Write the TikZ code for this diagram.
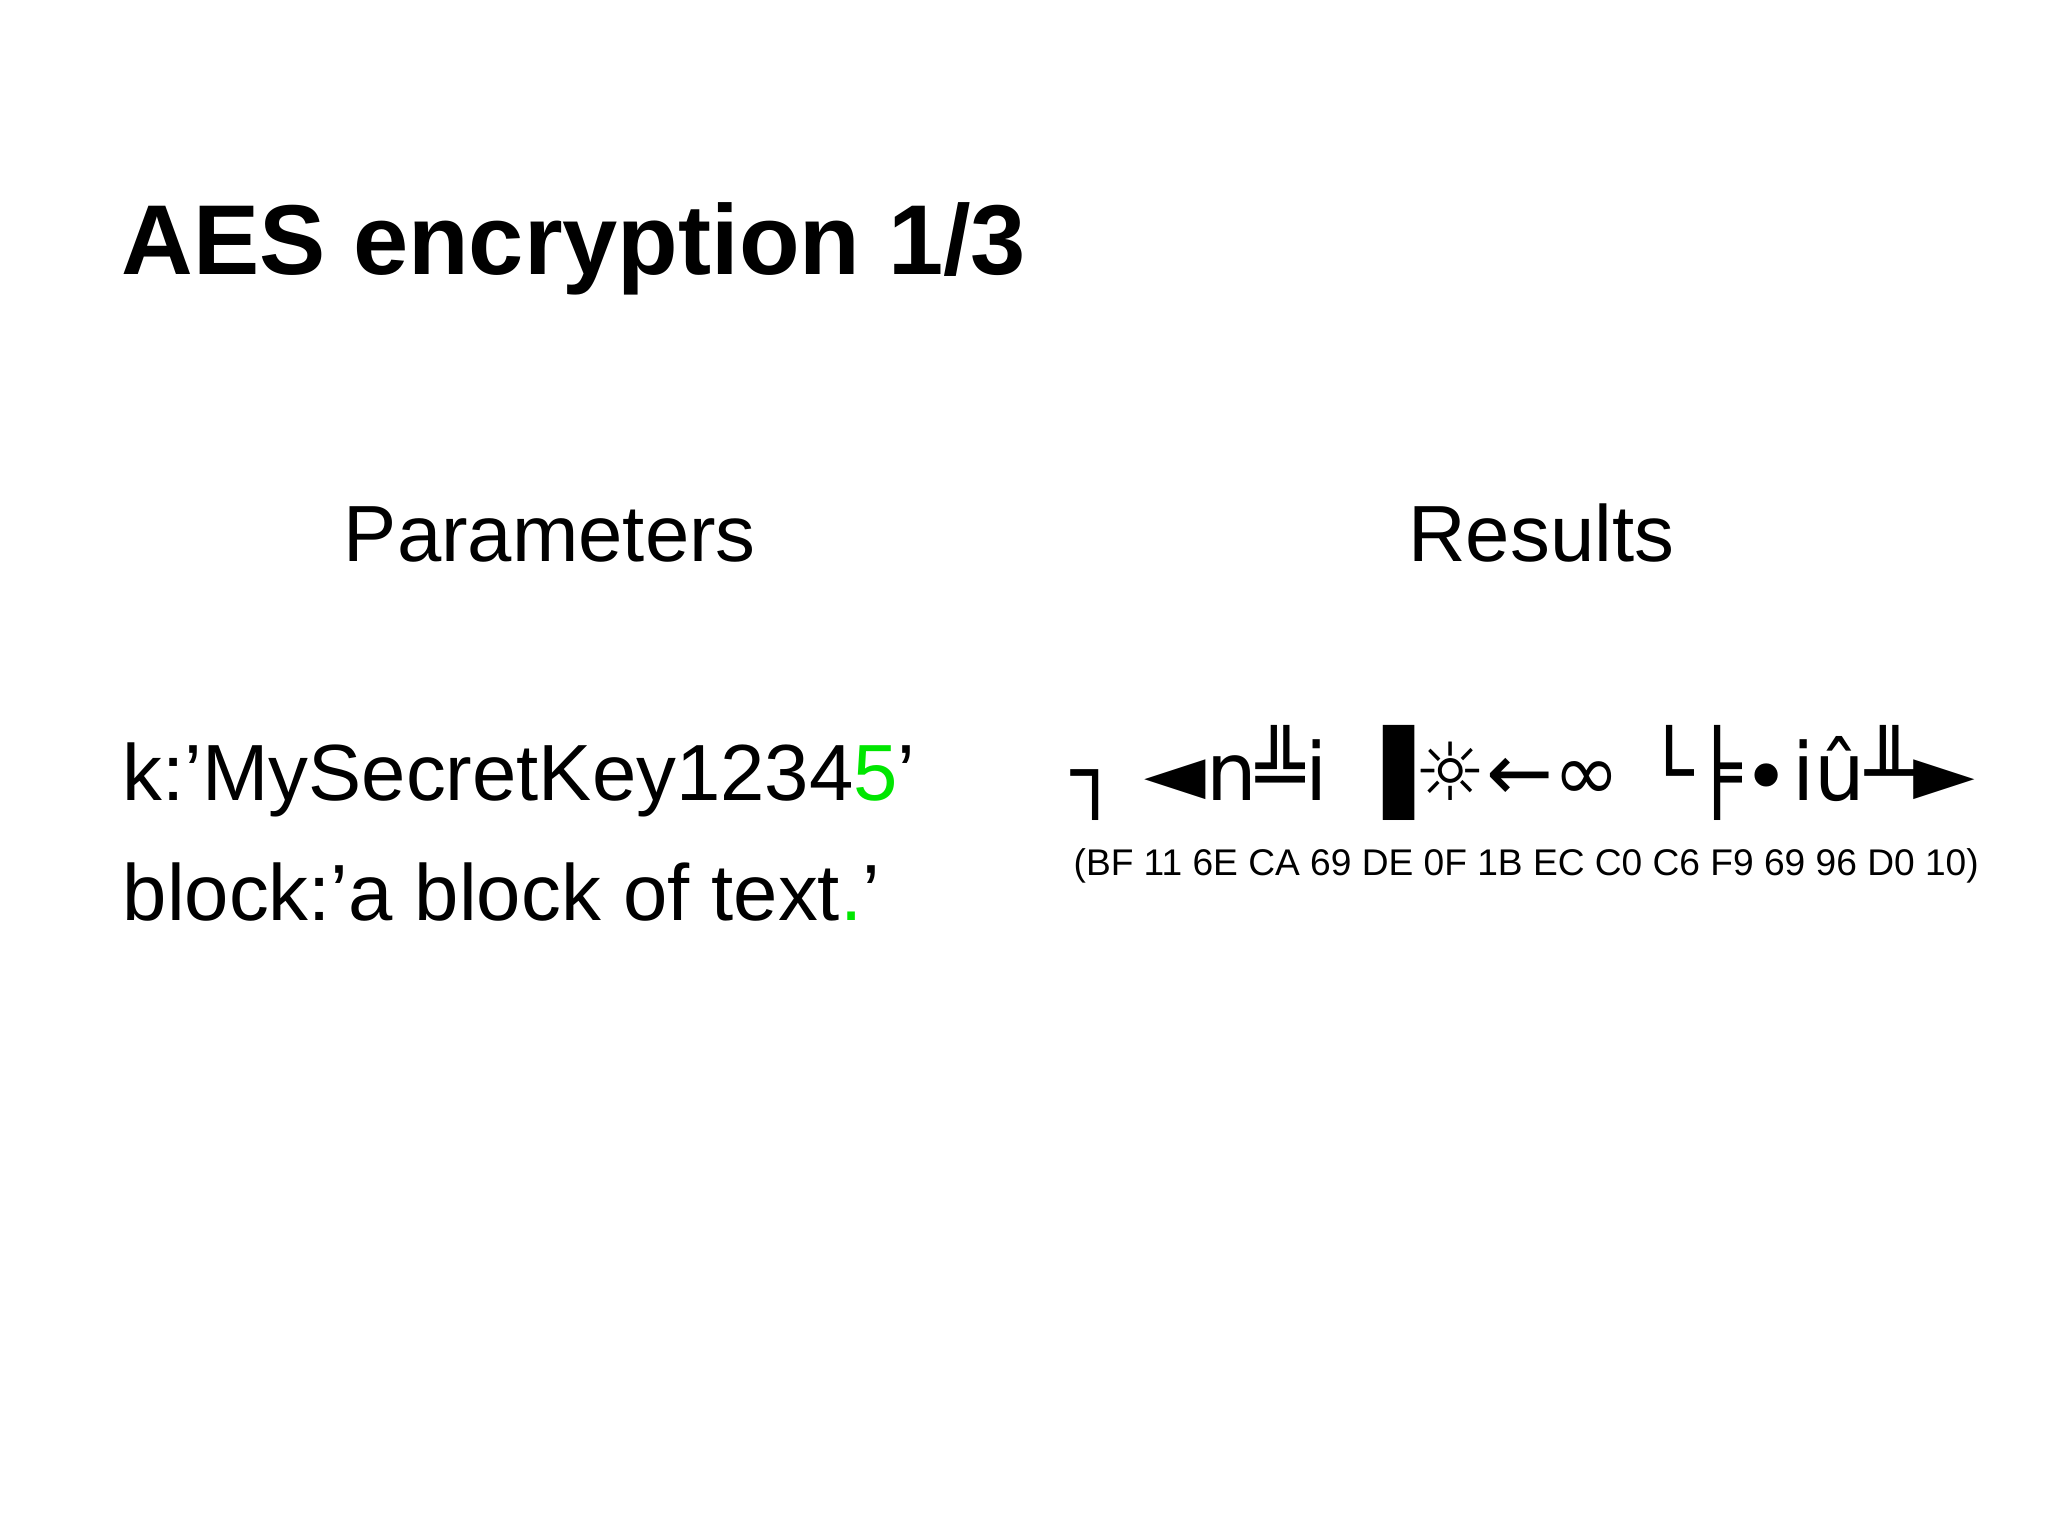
\documentclass[tikz,border=0pt]{standalone}
\usepackage{fontspec}
\setmainfont{Liberation Sans}
\newfontfamily\dejavu{DejaVu Sans}
\definecolor{grn}{RGB}{0,230,0}
\begin{document}
\begin{tikzpicture}[x=1pt,y=-1pt,txt/.style={inner sep=0pt,outer sep=0pt}]
\useasboundingbox[fill=white] (0,0) rectangle (1568,1176);
\node[txt,anchor=base west,font=\fontsize{76}{80}\selectfont\bfseries] (title) at (93,210) {AES encryption 1/3};
\node[txt,anchor=base,font=\fontsize{61}{64}\selectfont] (par) at (421,430) {Parameters};
\node[txt,anchor=base,font=\fontsize{61}{64}\selectfont] (res) at (1180,430) {Results};
\node[txt,anchor=base west,font=\fontsize{61}{64}\selectfont] (k) at (94,613) {k:'MySecretKey1234\textcolor{grn}{5}'};
\node[txt,anchor=base west,font=\fontsize{61}{64}\selectfont] (blk) at (94,705) {block:'a block of text\textcolor{grn}{.}'};
\node[txt,anchor=base west] (ct) at (820,613) {\resizebox{692pt}{!}{\dejavu\fontsize{50}{54}\selectfont ┐ ◄n╩i ▐☼←∞ └╞∙iû╨►}};
\node[txt,anchor=base west] (hex) at (822,670) {\resizebox{693pt}{!}{\fontsize{30}{32}\selectfont (BF 11 6E CA 69 DE 0F 1B EC C0 C6 F9 69 96 D0 10)}};
\end{tikzpicture}
\end{document}
